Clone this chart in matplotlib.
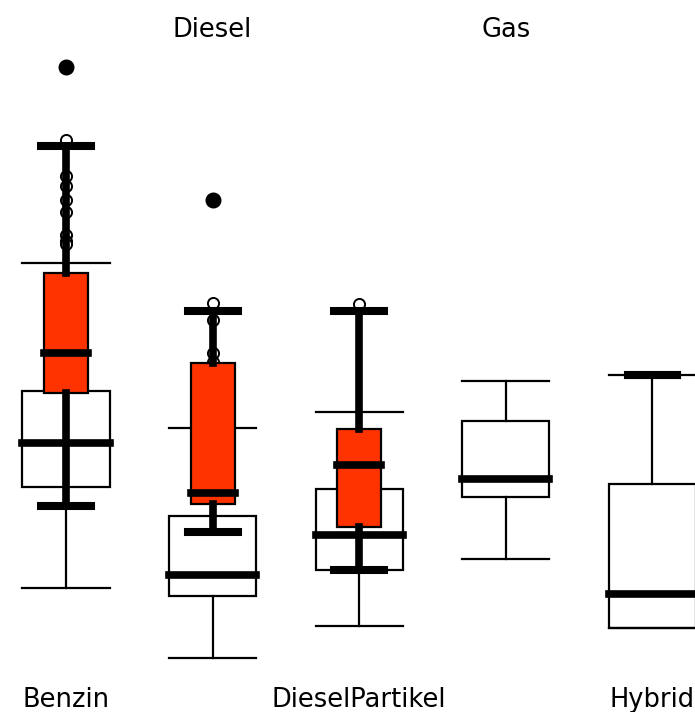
import matplotlib

matplotlib.use("Agg")
import matplotlib.pyplot as plt

categories = ["Benzin", "Diesel", "DieselPartikel", "Gas", "Hybrid"]
label_top = [False, True, False, True, False]

# wide white series: whisker low, q1, median, q3, whisker high
white_whislo = [12.4, 5.4, 8.6, 15.3, 8.4]
white_q1 = [22.5, 11.6, 14.2, 21.5, 8.4]
white_med = [26.9, 13.7, 17.7, 23.3, 11.8]
white_q3 = [32.1, 19.6, 22.3, 29.1, 22.8]
white_whishi = [44.9, 28.4, 30.0, 33.1, 33.7]
white_fliers = [[64.5], [51.2], [], [], []]

# narrow red series (no Gas data)
red_cats = ["Benzin", "Diesel", "DieselPartikel", "Hybrid"]
red_whislo = [20.6, 18.0, 14.2, 33.7]
red_q1 = [31.9, 20.8, 18.5, 33.7]
red_med = [35.9, 21.9, 24.7, 33.7]
red_q3 = [43.9, 34.9, 28.3, 33.7]
red_whishi = [56.6, 40.1, 40.1, 33.7]
red_fliers = [
    [57.2, 53.6, 52.6, 51.2, 50.0, 47.7, 47.1, 46.8],
    [40.9, 39.2, 35.9, 35.0],
    [40.8],
    [],
]


def make_stats(lo, q1, med, q3, hi, fliers):
    return [
        dict(whislo=a, q1=b, med=c, q3=d, whishi=e, fliers=f)
        for a, b, c, d, e, f in zip(lo, q1, med, q3, hi, fliers)
    ]


fig = plt.figure(figsize=(6.95, 7.12), dpi=100)
ax = fig.add_axes([0, 0, 1, 1])

pos_white = list(range(len(categories)))
pos_red = [categories.index(c) for c in red_cats]

ax.bxp(
    make_stats(white_whislo, white_q1, white_med, white_q3, white_whishi, white_fliers),
    positions=pos_white, widths=0.594, capwidths=0.594, patch_artist=True,
    manage_ticks=False,
    boxprops=dict(facecolor="white", edgecolor="black", linewidth=1.6, zorder=2),
    whiskerprops=dict(color="black", linewidth=1.6, zorder=2),
    capprops=dict(color="black", linewidth=1.6, zorder=2),
    medianprops=dict(color="black", linewidth=5.5, solid_capstyle="projecting", zorder=2.2),
    flierprops=dict(marker="o", markersize=10.5, markerfacecolor="black",
                    markeredgecolor="black", zorder=2),
)

ax.bxp(
    make_stats(red_whislo, red_q1, red_med, red_q3, red_whishi, red_fliers),
    positions=pos_red, widths=0.30, capwidths=0.34, patch_artist=True,
    manage_ticks=False,
    boxprops=dict(facecolor="#ff3300", edgecolor="black", linewidth=1.6, zorder=3),
    whiskerprops=dict(color="black", linewidth=5.5, zorder=3),
    capprops=dict(color="black", linewidth=5.8, zorder=3),
    medianprops=dict(color="black", linewidth=5.5, solid_capstyle="projecting", zorder=3.2),
    flierprops=dict(marker="o", markersize=8, markerfacecolor="white",
                    markeredgecolor="black", markeredgewidth=1.4, zorder=2.5),
)

ax.set_xlim(-0.45, 4.29)
ax.set_ylim(0, 71.2)
ax.axis("off")

for i, (name, top) in enumerate(zip(categories, label_top)):
    ax.text(i, 67.5 if top else 0.5, name, ha="center", va="baseline",
            fontsize=18.5, color="black")

fig.savefig("out.png", dpi=100)
plt.close(fig)
